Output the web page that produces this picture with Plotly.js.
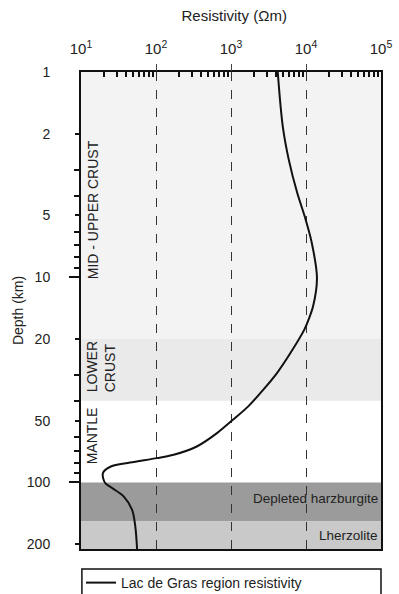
<!DOCTYPE html>
<html>
<head>
<meta charset="utf-8">
<script src="https://cdn.plot.ly/plotly-3.0.1.min.js"></script>
<style>html,body{margin:0;padding:0;background:#fff;}#chart{width:399px;height:594px;}</style>
</head>
<body>
<div id="chart"></div>
<script>
// ---- data ----
const depthKm = [1, 1.84, 2.68, 3.89, 5.05, 6.81, 10.1, 13.9, 16.1, 18.0, 23.4, 29.3, 35.3, 42.6, 49.5, 57.5, 66.8, 73.3, 76.1, 80.0, 83.6, 90.0, 100.7, 106.5, 117, 136, 164, 212];
const resistivity = [4200, 4900, 5900, 7650, 9600, 11950, 14000, 12400, 10800, 9500, 6200, 4100, 2700, 1700, 1060, 650, 350, 172, 103, 45, 25, 19.6, 21, 26, 37, 48, 53, 56];
const seriesName = "Lac de Gras region resistivity";

const resTickVals = [10, 100, 1000, 10000, 100000];
const resTickText = ["10<sup>1</sup>", "10<sup>2</sup>", "10<sup>3</sup>", "10<sup>4</sup>", "10<sup>5</sup>"];
const gridVals = [100, 1000, 10000];
const depthTickVals = [1, 2, 5, 10, 20, 50, 100, 200];
const depthTickText = ["1", "2", "5", "10", "20", "50", "100", "200"];
const depthMidTicks = [2, 5, 20, 50, 200];
const depthDecadeTicks = [10, 100];
const depthMinorTicks = [3, 4, 6, 7, 8, 9, 30, 40, 60, 70, 80, 90];

// layers: top depth, bottom depth, colour
const layerNames = ["mid-upper crust", "lower crust", "depleted harzburgite", "lherzolite"];
const layerTop = [1, 20, 100, 155];
const layerBottom = [20, 40, 155, 211];
const layerColors = ["#f3f3f3", "#eaeaea", "#9b9b9b", "#c8c9c8"];

// ---- minor ticks on resistivity axis ----
const resMinor = [];
for (let e = 1; e < 5; e++) for (let m = 2; m <= 9; m++) resMinor.push(m * Math.pow(10, e));

const FONT = "Liberation Sans, Arial, sans-serif";
const yRange = [Math.log10(211), 0];
const xRange = [1, 5];

const traces = [
  {x: resistivity, y: depthKm, type: "scatter", mode: "lines", name: seriesName,
   line: {color: "#111", width: 2, shape: "spline", smoothing: 0.9}, xaxis: "x", yaxis: "y", showlegend: true},
  {x: [], y: [], xaxis: "x", yaxis: "y2", showlegend: false, hoverinfo: "skip"},
  {x: [], y: [], xaxis: "x", yaxis: "y3", showlegend: false, hoverinfo: "skip"},
  {x: [], y: [], xaxis: "x2", yaxis: "y", showlegend: false, hoverinfo: "skip"}
];

const shapes = layerTop.map((t, i) => ({
  type: "rect", layer: "below", xref: "paper", yref: "y",
  x0: 0, x1: 1, y0: t, y1: layerBottom[i],
  fillcolor: layerColors[i], line: {width: 0}
}));
// legend frame
shapes.push({type: "rect", xref: "paper", yref: "paper", x0: 0.003, x1: 1, y0: -0.2, y1: -0.042,
  line: {color: "#111", width: 1.5}, fillcolor: "rgba(0,0,0,0)"});

const annFont = {family: FONT, size: 14, color: "#222"};
const annotations = [
  {text: "MID - UPPER CRUST", xref: "paper", yref: "paper", x: 0.038, y: 0.711, textangle: -90, showarrow: false, font: annFont, xanchor: "center", yanchor: "middle"},
  {text: "LOWER<br>CRUST", xref: "paper", yref: "paper", x: 0.065, y: 0.382, textangle: -90, showarrow: false, font: annFont, xanchor: "center", yanchor: "middle", align: "left"},
  {text: "MANTLE", xref: "paper", yref: "paper", x: 0.038, y: 0.237, textangle: -90, showarrow: false, font: annFont, xanchor: "center", yanchor: "middle"},
  {text: "Depleted harzburgite", xref: "paper", yref: "paper", x: 0.995, y: 0.105, showarrow: false, font: {family: FONT, size: 13.5, color: "#222"}, xanchor: "right", yanchor: "middle"},
  {text: "Lherzolite", xref: "paper", yref: "paper", x: 0.995, y: 0.029, showarrow: false, font: {family: FONT, size: 13.5, color: "#222"}, xanchor: "right", yanchor: "middle"}
];

const layout = {
  width: 399, height: 594,
  margin: {l: 81, r: 18, t: 72, b: 45, autoexpand: false},
  paper_bgcolor: "#fff", plot_bgcolor: "rgba(0,0,0,0)",
  font: {family: FONT, size: 14, color: "#222"},
  title: {text: "Resistivity (Ωm)", xref: "container", yref: "container", x: 0.587, y: 0.973, xanchor: "center", yanchor: "middle", font: {size: 15}},
  xaxis: {type: "log", range: xRange, side: "top", tickmode: "array", tickvals: resTickVals, ticktext: resTickText,
    tickfont: {size: 15},
    ticks: "", ticklabelstandoff: 10, showline: true, linecolor: "#111", linewidth: 2, mirror: true,
    showgrid: true, gridcolor: "#333", gridwidth: 1, griddash: "dash", zeroline: false,
    minor: {tickmode: "array", tickvals: resMinor, ticks: "inside", ticklen: 5, tickwidth: 2, tickcolor: "#111", showgrid: false},
    fixedrange: true},
  xaxis2: {type: "log", range: xRange, overlaying: "x", side: "top", tickmode: "array", tickvals: gridVals,
    ticks: "outside", ticklen: 7, tickwidth: 1, tickcolor: "#444", showticklabels: false, showgrid: false, showline: false, zeroline: false},
  yaxis: {type: "log", range: yRange, tickmode: "array", tickvals: depthTickVals, ticktext: depthTickText,
    ticks: "", ticklabelstandoff: 26, showline: true, linecolor: "#111", linewidth: 2, mirror: true,
    showgrid: false, zeroline: false,
    title: {text: "Depth (km)", font: {size: 14}, standoff: 0},
    minor: {tickmode: "array", tickvals: depthMinorTicks, ticks: "outside", ticklen: 5, tickwidth: 2, tickcolor: "#111", showgrid: false}},
  yaxis2: {type: "log", range: yRange, overlaying: "y", side: "left", tickmode: "array", tickvals: depthMidTicks,
    ticks: "outside", ticklen: 5, tickwidth: 2, tickcolor: "#111", showticklabels: false, showgrid: false, showline: false, zeroline: false},
  yaxis3: {type: "log", range: yRange, overlaying: "y", side: "left", tickmode: "array", tickvals: depthDecadeTicks,
    ticks: "outside", ticklen: 11, tickwidth: 2, tickcolor: "#111", showticklabels: false, showgrid: false, showline: false, zeroline: false},
  showlegend: true,
  legend: {x: 0.0, xanchor: "left", y: -0.0713, yanchor: "middle", font: {size: 14}, bgcolor: "rgba(0,0,0,0)", borderwidth: 0},
  shapes: shapes,
  annotations: annotations
};

Plotly.newPlot("chart", traces, layout, {staticPlot: true});
</script>
</body>
</html>
